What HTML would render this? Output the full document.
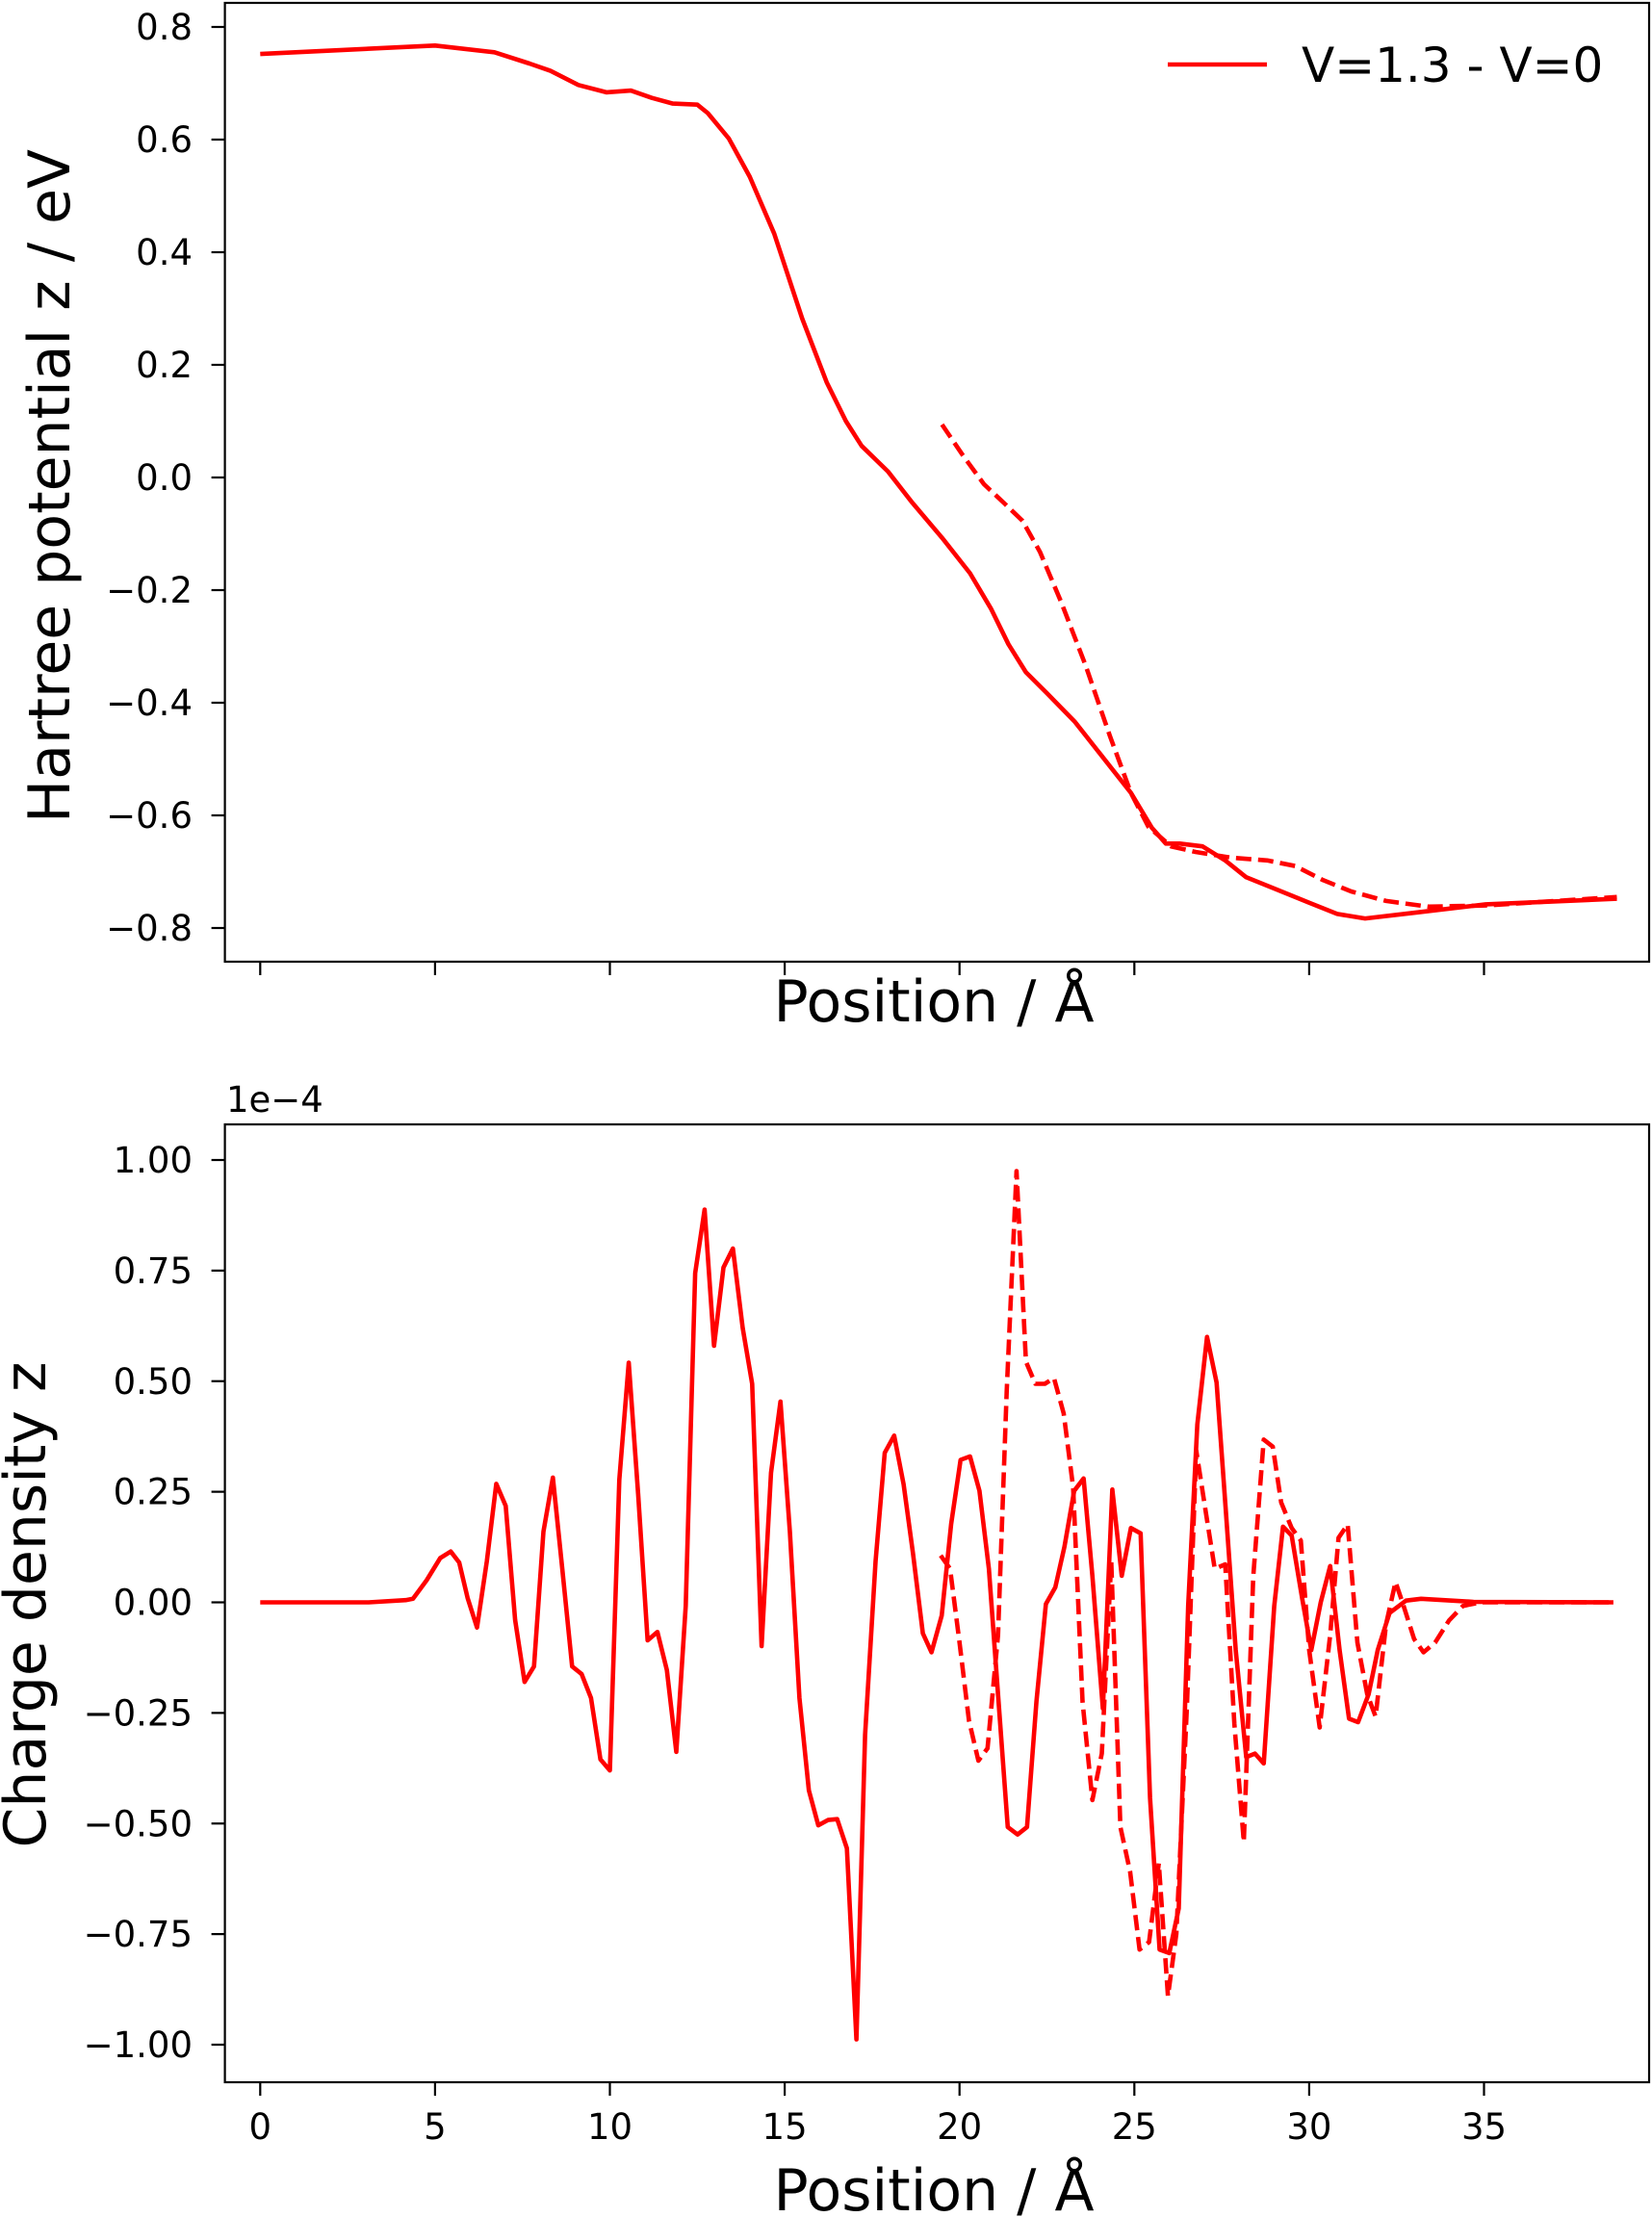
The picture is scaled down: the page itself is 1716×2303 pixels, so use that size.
<!DOCTYPE html>
<html><head><meta charset="utf-8"><style>
html,body{margin:0;padding:0;background:#fff}
svg{display:block}
text{font-family:"DejaVu Sans","Liberation Sans",sans-serif;fill:#000}
</style></head><body>
<svg id="fig" width="1716" height="2303" viewBox="0 0 1716 2303" xmlns="http://www.w3.org/2000/svg"></svg>
<script>
// ---- data ----
const topSolidX=[0,5.0,6.7,7.7,8.3,9.1,9.9,10.6,11.2,11.8,12.5,12.8,13.4,14.0,14.7,15.5,16.2,16.75,17.2,17.95,18.65,19.5,20.3,20.9,21.4,21.9,22.5,23.3,24.1,24.9,25.5,25.9,26.3,26.95,27.6,28.2,29.0,30.0,30.8,31.6,33.0,35.05,38.8];
const topSolidY=[0.752,0.767,0.755,0.735,0.722,0.697,0.684,0.687,0.674,0.664,0.662,0.647,0.602,0.534,0.433,0.282,0.169,0.1,0.056,0.011,-0.045,-0.107,-0.17,-0.233,-0.296,-0.346,-0.383,-0.434,-0.497,-0.56,-0.622,-0.65,-0.65,-0.655,-0.68,-0.71,-0.73,-0.755,-0.775,-0.783,-0.773,-0.758,-0.748];
const topDashX=[19.5,20.1,20.7,21.3,21.8,22.3,22.9,23.6,24.3,24.9,25.4,26.05,26.75,27.76,28.8,29.6,30.4,31.2,32.2,33.4,35.05,38.8];
const topDashY=[0.094,0.039,-0.012,-0.047,-0.077,-0.132,-0.22,-0.333,-0.459,-0.56,-0.62,-0.655,-0.665,-0.675,-0.68,-0.69,-0.715,-0.735,-0.752,-0.762,-0.76,-0.745];
const botSolidX=[0,3.1,4.16,4.37,4.76,5.15,5.45,5.69,5.93,6.2,6.48,6.75,7.02,7.29,7.56,7.83,8.1,8.37,8.64,8.92,9.19,9.46,9.73,10.0,10.27,10.54,10.81,11.08,11.36,11.63,11.9,12.17,12.44,12.71,12.98,13.25,13.52,13.8,14.07,14.34,14.61,14.88,15.15,15.42,15.69,15.96,16.24,16.5,16.78,17.05,17.3,17.6,17.86,18.13,18.4,18.67,18.95,19.2,19.49,19.76,20.03,20.3,20.57,20.84,21.1,21.38,21.66,21.93,22.2,22.47,22.74,23.0,23.28,23.55,23.8,24.1,24.37,24.64,24.9,25.18,25.45,25.72,26.0,26.27,26.54,26.8,27.08,27.35,27.6,27.9,28.2,28.45,28.7,29.0,29.25,29.5,29.8,30.06,30.33,30.6,30.87,31.14,31.4,31.7,31.96,32.3,32.77,33.2,34.7,38.7];
const botSolidY=[0,0,0.005,0.008,0.05,0.1,0.115,0.09,0.01,-0.057,0.093,0.268,0.218,-0.04,-0.18,-0.145,0.16,0.282,0.075,-0.145,-0.162,-0.216,-0.355,-0.38,0.277,0.542,0.244,-0.086,-0.067,-0.153,-0.338,-0.008,0.744,0.888,0.58,0.757,0.8,0.62,0.494,-0.099,0.293,0.454,0.159,-0.216,-0.425,-0.504,-0.492,-0.49,-0.556,-0.988,-0.3,0.093,0.338,0.377,0.267,0.11,-0.07,-0.113,-0.03,0.177,0.322,0.33,0.252,0.076,-0.208,-0.508,-0.525,-0.508,-0.224,-0.004,0.034,0.126,0.252,0.28,0.06,-0.24,0.255,0.06,0.168,0.156,-0.442,-0.785,-0.793,-0.692,-0.008,0.402,0.6,0.497,0.226,-0.108,-0.35,-0.342,-0.364,-0.008,0.171,0.151,0.009,-0.108,0.0,0.082,-0.108,-0.263,-0.271,-0.208,-0.108,-0.024,0.004,0.008,0.001,0];
const botDashX=[19.46,19.73,20.0,20.27,20.54,20.8,21.1,21.35,21.63,21.9,22.17,22.44,22.7,22.98,23.25,23.52,23.8,24.07,24.34,24.6,24.88,25.15,25.42,25.7,25.96,26.2,26.5,26.77,27.05,27.3,27.6,27.86,28.13,28.4,28.7,28.96,29.2,29.5,29.76,30.0,30.3,30.6,30.84,31.1,31.38,31.66,31.9,32.2,32.47,32.7,33.0,33.27,33.6,34.0,34.4,34.9,38.7];
const botDashY=[0.106,0.076,-0.091,-0.267,-0.358,-0.33,-0.074,0.477,0.975,0.544,0.494,0.494,0.507,0.427,0.26,-0.225,-0.447,-0.342,0.093,-0.508,-0.609,-0.785,-0.768,-0.59,-0.89,-0.75,-0.241,0.343,0.2,0.076,0.086,-0.275,-0.542,0.058,0.368,0.352,0.226,0.168,0.14,-0.108,-0.283,-0.074,0.146,0.176,-0.091,-0.208,-0.258,-0.049,0.046,-0.008,-0.083,-0.113,-0.091,-0.041,-0.008,0,0];
const xTicks=[0,5,10,15,20,25,30,35];
const topYTicks=[0.8,0.6,0.4,0.2,0.0,-0.2,-0.4,-0.6,-0.8];
const topYLabels=["0.8","0.6","0.4","0.2","0.0","\u22120.2","\u22120.4","\u22120.6","\u22120.8"];
const botYTicks=[1.0,0.75,0.5,0.25,0,-0.25,-0.5,-0.75,-1.0];
const botYLabels=["1.00","0.75","0.50","0.25","0.00","\u22120.25","\u22120.50","\u22120.75","\u22121.00"];

const NS="http://www.w3.org/2000/svg";
const svg=document.getElementById('fig');
function mk(tag,attrs,parent){const e=document.createElementNS(NS,tag);for(const k in attrs)e.setAttribute(k,attrs[k]);(parent||svg).appendChild(e);return e;}
const xs=v=>270.3+v*36.32;
const yTop=v=>28+(0.8-v)*(964-28)/1.6;
const L=233.6,R=1713;
const TF=37;

function line(xa,ya,ys,dash,name){
  const d=xa.map((x,i)=>(i?'L':'M')+xs(x).toFixed(1)+' '+ys(ya[i]).toFixed(1)).join(' ');
  const p=mk('path',{d:d,fill:'none',stroke:'#ff0000','stroke-width':4.6,'stroke-linejoin':'round'});
  if(dash)p.setAttribute('stroke-dasharray','16 7');
  
  
}

// ---- top panel ----
const f1=mk('rect',{x:L,y:3,width:R-L,height:996,fill:'none',stroke:'#000','stroke-width':2.2});


topYTicks.forEach((v,i)=>{
  const y=yTop(v);
  const t=mk('line',{x1:L-14,x2:L,y1:y,y2:y,stroke:'#000','stroke-width':2.2});
  
  
  const tx=mk('text',{x:200,y:y+13,'text-anchor':'end','font-size':TF});
  tx.textContent=topYLabels[i];
  
  
});
xTicks.forEach(v=>{
  const t=mk('line',{x1:xs(v),x2:xs(v),y1:999,y2:1013,stroke:'#000','stroke-width':2.2});
  
  
});
line(topSolidX,topSolidY,yTop,false,'top-solid-line');
line(topDashX,topDashY,yTop,true,'top-dashed-line');
</script>
<script>
(function(){
const NS="http://www.w3.org/2000/svg";const svg=document.getElementById('fig');
function mk(tag,attrs){const e=document.createElementNS(NS,tag);for(const k in attrs)e.setAttribute(k,attrs[k]);svg.appendChild(e);return e;}
let t=mk('text',{x:970,y:1061,'text-anchor':'middle','font-size':60});t.textContent='Position / Å';


t=mk('text',{x:0,y:0,'text-anchor':'middle','font-size':60,transform:'translate(72,505) rotate(-90)'});t.textContent='Hartree potential z / eV';


let l=mk('line',{x1:1213,x2:1316,y1:67,y2:67,stroke:'#ff0000','stroke-width':4.6});


t=mk('text',{x:1352,y:85,'font-size':50});t.textContent='V=1.3 - V=0';


})();
</script>
<script>
(function(){
const NS="http://www.w3.org/2000/svg";const svg=document.getElementById('fig');
function mk(tag,attrs){const e=document.createElementNS(NS,tag);for(const k in attrs)e.setAttribute(k,attrs[k]);svg.appendChild(e);return e;}
const xs=v=>270.3+v*36.32;
const yBot=v=>1205+(1.0-v)*(2124-1205)/2.0;
const L=233.6,R=1713,TF=37;
const f=mk('rect',{x:L,y:1168,width:R-L,height:995,fill:'none',stroke:'#000','stroke-width':2.2});


botYTicks.forEach((v,i)=>{
  const y=yBot(v);
  const t=mk('line',{x1:L-14,x2:L,y1:y,y2:y,stroke:'#000','stroke-width':2.2});
  
  
  const tx=mk('text',{x:200,y:y+13,'text-anchor':'end','font-size':TF});
  tx.textContent=botYLabels[i];
  
  
});
xTicks.forEach(v=>{
  const t=mk('line',{x1:xs(v),x2:xs(v),y1:2163,y2:2177,stroke:'#000','stroke-width':2.2});
  
  
  const tx=mk('text',{x:xs(v),y:2222,'text-anchor':'middle','font-size':TF});
  tx.textContent=String(v);
  
  
});
function line(xa,ya,dash,name){
  const d=xa.map((x,i)=>(i?'L':'M')+xs(x).toFixed(1)+' '+yBot(ya[i]).toFixed(1)).join(' ');
  const p=mk('path',{d:d,fill:'none',stroke:'#ff0000','stroke-width':4.6,'stroke-linejoin':'round'});
  if(dash)p.setAttribute('stroke-dasharray','16 7');
  
  
}
line(botSolidX,botSolidY,false,'bottom-solid-line');
line(botDashX,botDashY,true,'bottom-dashed-line');
let t=mk('text',{x:235,y:1155,'font-size':TF});t.textContent='1e\u22124';


t=mk('text',{x:970,y:2296,'text-anchor':'middle','font-size':60});t.textContent='Position / Å';


t=mk('text',{x:0,y:0,'text-anchor':'middle','font-size':60,transform:'translate(47,1667) rotate(-90)'});t.textContent='Charge density z';


})();
</script>
</body></html>
